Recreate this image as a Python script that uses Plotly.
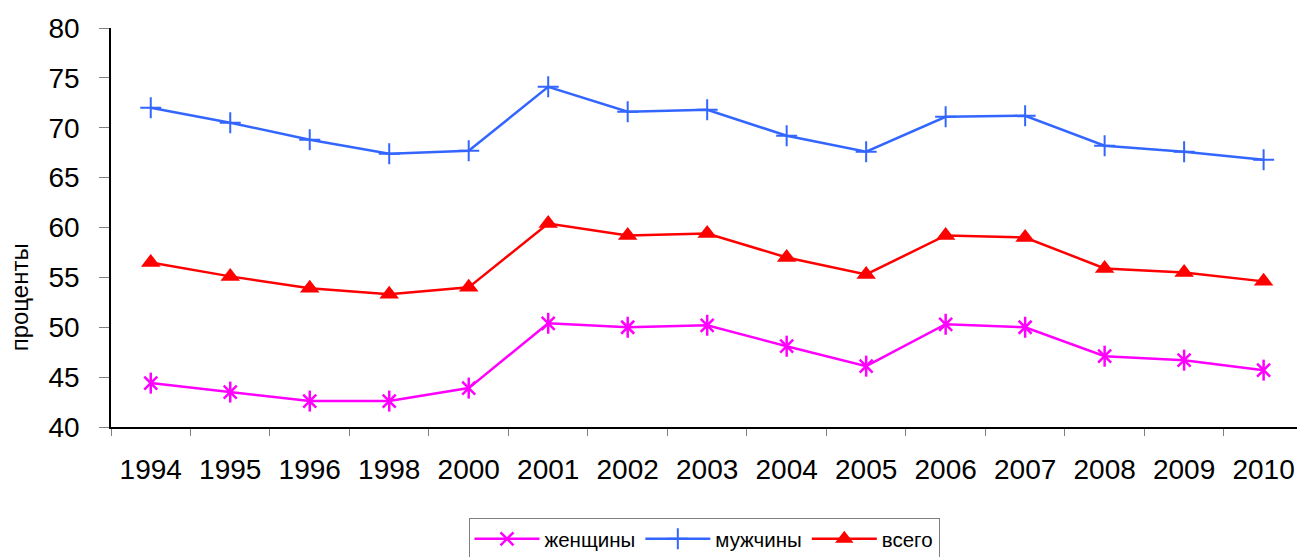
import plotly.graph_objects as go

years = ["1994", "1995", "1996", "1998", "2000", "2001", "2002", "2003",
         "2004", "2005", "2006", "2007", "2008", "2009", "2010"]
women = [44.4, 43.5, 42.6, 42.6, 43.9, 50.4, 50.0, 50.2, 48.1, 46.1, 50.3, 50.0, 47.1, 46.7, 45.7]
men = [72.0, 70.5, 68.8, 67.4, 67.7, 74.1, 71.6, 71.8, 69.2, 67.6, 71.1, 71.2, 68.2, 67.6, 66.8]
total = [56.5, 55.1, 53.9, 53.3, 54.0, 60.4, 59.2, 59.4, 57.0, 55.3, 59.2, 59.0, 55.9, 55.5, 54.6]
y_title = "проценты"

MAG = "#FF00FF"
BLUE = "#3366FF"
RED = "#FF0000"

fig = go.Figure()
fig.add_trace(go.Scatter(
    x=years, y=women, name="женщины", mode="lines+markers",
    line=dict(color=MAG, width=2.5),
    marker=dict(symbol="x-thin-open", size=13, color=MAG,
                line=dict(color=MAG, width=2.5))))
fig.add_trace(go.Scatter(
    x=years, y=women, mode="markers", showlegend=False, hoverinfo="skip",
    marker=dict(symbol="line-ns-open", size=15, color=MAG,
                line=dict(color=MAG, width=2.5))))
fig.add_trace(go.Scatter(
    x=years, y=men, name="мужчины", mode="lines+markers",
    line=dict(color=BLUE, width=2.5),
    marker=dict(symbol="cross-thin-open", size=15, color=BLUE,
                line=dict(color=BLUE, width=2))))
fig.add_trace(go.Scatter(
    x=years, y=total, name="всего", mode="lines+markers",
    line=dict(color=RED, width=2.5),
    marker=dict(symbol="triangle-up", size=17, color=RED)))

fig.update_layout(
    width=1297, height=557,
    margin=dict(l=111, r=0, t=28, b=130, autoexpand=False),
    plot_bgcolor="white", paper_bgcolor="white",
    font=dict(family="Liberation Sans, Arial", color="black"),
    showlegend=True,
    legend=dict(orientation="h", x=0.5, xanchor="center",
                yref="container", y=0.070, yanchor="top",
                bordercolor="#808080", borderwidth=1, font=dict(size=20.5),
                itemwidth=65, tracegroupgap=0),
    annotations=[dict(text=y_title, textangle=-90, xref="paper", x=0, xanchor="center",
                      xshift=-92, yref="y", y=53.0, yanchor="middle", showarrow=False,
                      font=dict(size=24))],
)
fig.update_xaxes(
    type="category", range=[-0.5, 14.42],
    showline=True, linecolor="black", linewidth=1.5,
    ticks="outside", tickson="boundaries", ticklen=7, tickcolor="#808080",
    tickfont=dict(size=28), showgrid=False, zeroline=False,
    ticklabelstandoff=17)
fig.update_yaxes(
    range=[40, 80], dtick=5,
    showline=True, linecolor="black", linewidth=1.5,
    ticks="outside", ticklen=10, tickcolor="#808080",
    tickfont=dict(size=28), showgrid=False, zeroline=False,
    ticklabelstandoff=14)

fig.write_html("out.html", config={"displayModeBar": False},
               post_script="document.body.style.margin='0';")
